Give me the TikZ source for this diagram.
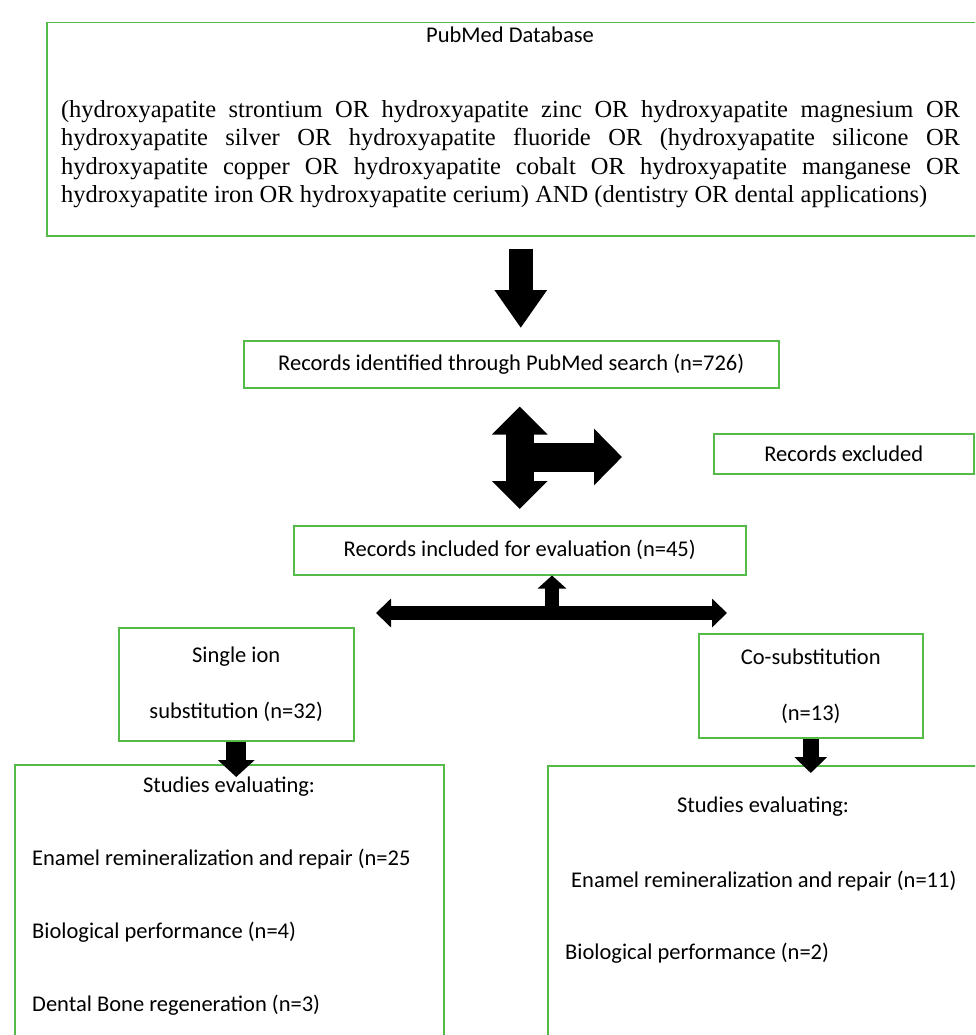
\documentclass[tikz,border=0pt]{standalone}
\usepackage{fontspec}
\setmainfont{Carlito}
\newfontfamily\timesq{Liberation Serif}
\usetikzlibrary{arrows.meta,calc}
\definecolor{boxgreen}{RGB}{84,186,72}

\begin{document}
\begin{tikzpicture}[x=1pt,y=-1pt,
        gbox/.style={draw=boxgreen,line width=1.5pt,inner sep=0pt,anchor=north west},
        txt/.style={inner sep=0pt,font=\fontsize{22.5}{26}\selectfont},
        twoline/.style={align=center,font=\fontsize{22.5}{56}\selectfont}]
    \useasboundingbox (0,0) rectangle (975,1035);
    \clip (0,0) rectangle (975,1035);

    % boxes
    \node[gbox,minimum width=944pt,minimum height=213pt] (db) at (46,22) {};
    \node[txt] (dbtitle) at (510,35) {PubMed Database};
    \node[inner sep=0pt,text width=899pt,align=justify,
          font=\timesq\fontsize{24.5}{28.5}\selectfont] (dbquery) at (510.5,154)
        {\hyphenpenalty=10000 (hydroxyapatite strontium OR hydroxyapatite zinc OR hydroxyapatite magnesium OR\linebreak
         hydroxyapatite silver OR hydroxyapatite fluoride OR (hydroxyapatite silicone OR\linebreak
         hydroxyapatite copper OR hydroxyapatite cobalt OR hydroxyapatite manganese OR\linebreak
         hydroxyapatite iron OR hydroxyapatite cerium) AND (dentistry OR dental applications)};
    \node[gbox,txt,minimum width=535pt,minimum height=47pt] (rec) at (243,340)
        {Records identified through PubMed search (n=726)};
    \node[gbox,txt,minimum width=260pt,minimum height=40pt] (excl) at (713,433) {Records excluded};
    \node[gbox,txt,minimum width=452pt,minimum height=49pt] (incl) at (293,525)
        {Records included for evaluation (n=45)};
    \node[gbox,txt,twoline,minimum width=235pt,minimum height=113pt] (single) at (118,627)
        {Single ion\\substitution (n=32)};
    \node[gbox,txt,twoline,minimum width=224pt,minimum height=104pt] (cosub) at (698,633)
        {Co-substitution\\(n=13)};
    \node[gbox,minimum width=429pt,minimum height=290pt] (leftst) at (14,764) {};
    \node[gbox,minimum width=443pt,minimum height=290pt] (rightst) at (547,765) {};

    \node[txt] (lst0) at (229,787) {Studies evaluating:};
    \node[txt,anchor=west] (lst1) at (32,859) {Enamel remineralization and repair (n=25};
    \node[txt,anchor=west] (lst2) at (32,932) {Biological performance (n=4)};
    \node[txt,anchor=west] (lst3) at (32,1005) {Dental Bone regeneration (n=3)};
    \node[txt] (rst0) at (763,807) {Studies evaluating:};
    \node[txt,anchor=west] (rst1) at (571,881) {Enamel remineralization and repair (n=11)};
    \node[txt,anchor=west] (rst2) at (565,953) {Biological performance (n=2)};

    % block arrows
    \coordinate (hub) at ($(incl.north)+(0,-68)$);
    \coordinate (split) at (552,613);
    \coordinate (splitL) at (376,613);
    \coordinate (splitR) at (727,613);

    \draw[line width=24pt,-{Triangle[width=50pt,length=38pt]},shorten <=12pt,shorten >=12pt]
        ([xshift=2pt]db.south) -- ([xshift=2pt]db.south |- rec.north);
    \draw[line width=29pt,-{Triangle[width=55pt,length=28pt]},shorten >=91pt]
        (hub) -- (hub -| excl.west);
    \draw[line width=28pt,{Triangle[width=54pt,length=28pt]}-{Triangle[width=54pt,length=28pt]},
          shorten <=18pt,shorten >=16pt]
        (rec.south -| incl.north) -- (incl.north);
    \draw[line width=14pt,{Triangle[width=28pt,length=15pt]}-{Triangle[width=28pt,length=15pt]}]
        (splitL) -- (splitR);
    \draw[line width=14pt,-{Triangle[width=28pt,length=13pt]}]
        (split) -- (split |- incl.south);
    \draw[line width=20pt,-{Triangle[width=36pt,length=17pt]},shorten >=-13pt]
        (single.south) -- (single.south |- leftst.north);
    \draw[line width=16pt,-{Triangle[width=32pt,length=16pt]},shorten >=-8pt]
        (cosub.south) -- (cosub.south |- rightst.north);
\end{tikzpicture}
\end{document}
